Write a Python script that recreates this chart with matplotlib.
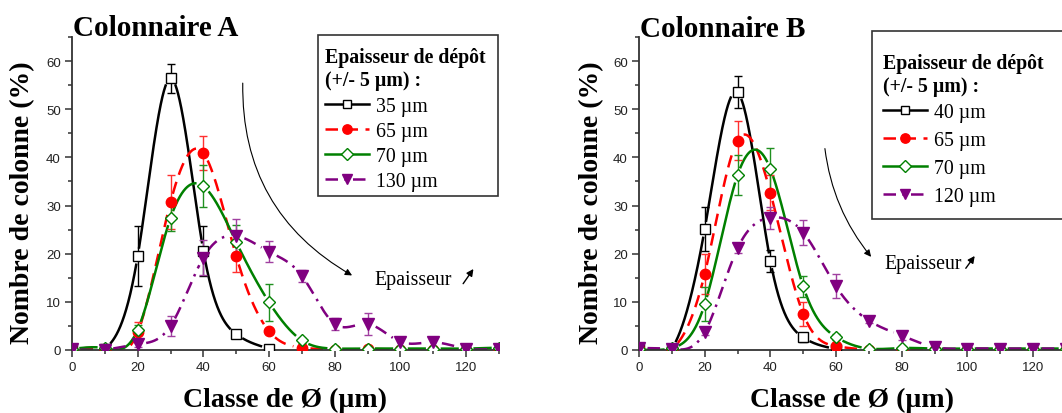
import numpy as np
import matplotlib
matplotlib.use("Agg")
import matplotlib.pyplot as plt
from matplotlib.lines import Line2D
from matplotlib.patches import Rectangle
from matplotlib.ticker import MultipleLocator

# ---------------- data ----------------
classes = [0, 10, 20, 30, 40, 50, 60, 70, 80, 90, 100, 110, 120, 130]
classes_short = [0, 10, 20, 30, 40, 50, 60]

# Colonnaire A
a_35 = [0.2, 0.3, 19.5, 56.4, 20.6, 3.3, 0.3]
a_35_err = [0, 0, 6.2, 3.0, 5.2, 0.5, 0]
a_65 = [0.1, 0.1, 3.7, 30.7, 40.9, 19.5, 3.9, 0.5, 0.1, 0.2, 0.1, 0.1, 0.1, 0.1]
a_65_err = [0, 0, 2.2, 5.6, 3.5, 3.4, 0.5, 0.3, 0, 0, 0, 0, 0, 0]
a_70 = [0.2, 0.4, 4.2, 27.4, 34.0, 22.4, 9.9, 2.0, 0.3, 0.3, 0.3, 0.3, 0.3, 0.5]
a_70_err = [0, 0, 1.0, 2.7, 4.4, 3.5, 3.8, 0.5, 0, 0, 0, 0, 0, 0]
a_130 = [0.2, 0.1, 1.2, 5.0, 19.2, 23.7, 20.4, 15.4, 5.4, 5.4, 1.7, 1.6, 0.3, 0.3]
a_130_err = [0, 0, 0.5, 2.0, 3.7, 3.5, 2.2, 1.2, 1.2, 2.2, 0.8, 0.8, 0, 0]
a_labels = ["35 µm", "65 µm", "70 µm", "130 µm"]

# Colonnaire B
b_40 = [0.3, 0.3, 25.1, 53.5, 18.5, 2.6, 0.2]
b_40_err = [0, 0, 4.5, 3.3, 2.3, 1.0, 0]
b_65 = [0.2, 0.2, 15.8, 43.5, 32.7, 7.5, 0.8, 0.1, 0.1, 0.1, 0.1, 0.1, 0.1, 0.1]
b_65_err = [0, 0, 4.1, 4.1, 3.7, 2.5, 0.3, 0, 0, 0, 0, 0, 0, 0]
b_70 = [0.2, 0.4, 9.5, 36.3, 37.6, 13.2, 2.7, 0.3, 0.4, 0.3, 0.3, 0.3, 0.3, 0.3]
b_70_err = [0, 0, 3.5, 4.2, 4.3, 2.2, 0.6, 0.2, 0, 0, 0, 0, 0, 0]
b_120 = [0.4, 0.2, 3.7, 21.1, 27.5, 24.4, 13.2, 6.1, 3.0, 0.6, 0.3, 0.3, 0.3, 0.3]
b_120_err = [0, 0, 0.5, 1.0, 2.3, 2.5, 2.5, 0.5, 1.0, 0.3, 0, 0, 0, 0]
b_labels = ["40 µm", "65 µm", "70 µm", "120 µm"]

legend_title = "Epaisseur de dépôt\n(+/- 5 µm) :"
annot_text = "Epaisseur"

# ---------------- styles ----------------
SERIF = ["Liberation Serif", "DejaVu Serif"]
SANS = ["Liberation Sans", "DejaVu Sans"]
BLACK, RED, GREEN, PURPLE = "#000000", "#ff0000", "#008000", "#800080"
ERR_COLORS = ["#000000", "#ff3030", "#209020", "#a040a0"]
styles = [
    dict(color=BLACK, ls="-", marker="s", mfc="white", mec=BLACK, ms=6.5),
    dict(color=RED, ls=(0, (5, 3)), marker="o", mfc=RED, mec=RED, ms=7.5),
    dict(color=GREEN, ls="-", marker="D", mfc="white", mec=GREEN, ms=6.5),
    dict(color=PURPLE, ls=(0, (5, 2.5, 1, 2.5)), marker="v", mfc=PURPLE, mec=PURPLE, ms=8),
]

W, H, DPI = 1062, 414, 100
fig = plt.figure(figsize=(W / DPI, H / DPI), dpi=DPI)
ax_w = 427 / W
ax_b = (H - 351) / H
ax_h = (351 - 38) / H
axA = fig.add_axes([72 / W, ax_b, ax_w, ax_h])
axB = fig.add_axes([639 / W, ax_b, ax_w, ax_h])


def natural_spline(x, y, xs):
    x = np.asarray(x, float)
    y = np.asarray(y, float)
    n = len(x)
    h = np.diff(x)
    A = np.zeros((n, n))
    r = np.zeros(n)
    A[0, 0] = A[-1, -1] = 1
    for i in range(1, n - 1):
        A[i, i - 1] = h[i - 1]
        A[i, i] = 2 * (h[i - 1] + h[i])
        A[i, i + 1] = h[i]
        r[i] = 6 * ((y[i + 1] - y[i]) / h[i] - (y[i] - y[i - 1]) / h[i - 1])
    M = np.linalg.solve(A, r)
    idx = np.clip(np.searchsorted(x, xs) - 1, 0, n - 2)
    x0, x1 = x[idx], x[idx + 1]
    hh = x1 - x0
    t0 = x1 - xs
    t1 = xs - x0
    return (M[idx] * t0 ** 3 / (6 * hh) + M[idx + 1] * t1 ** 3 / (6 * hh)
            + (y[idx] / hh - M[idx] * hh / 6) * t0
            + (y[idx + 1] / hh - M[idx + 1] * hh / 6) * t1)


def setup_axes(ax):
    ax.set_xlim(0, 130)
    ax.set_ylim(0, 65)
    for s in ["top", "right"]:
        ax.spines[s].set_visible(False)
    for s in ["left", "bottom"]:
        ax.spines[s].set_color("#333333")
        ax.spines[s].set_linewidth(1.3)
    ax.xaxis.set_major_locator(MultipleLocator(20))
    ax.xaxis.set_minor_locator(MultipleLocator(10))
    ax.yaxis.set_major_locator(MultipleLocator(10))
    ax.yaxis.set_minor_locator(MultipleLocator(5))
    ax.tick_params(which="both", direction="out", color="#333333", width=1.1)
    ax.tick_params(which="major", length=5, labelsize=9.5, pad=3)
    ax.tick_params(which="minor", length=3)
    for lab in ax.get_xticklabels() + ax.get_yticklabels():
        lab.set_family(SANS)
        lab.set_color("#222222")


def draw_series(ax, xs_list, ys_list, err_list):
    for k, (x, y, e) in enumerate(zip(xs_list, ys_list, err_list)):
        st = styles[k]
        x = np.asarray(x, float)
        y = np.asarray(y, float)
        e = np.asarray(e, float)
        xx = np.linspace(x[0], x[-1], 3000)
        yy = natural_spline(x, y, xx)
        # gaps around markers (Origin style)
        disp = ax.transData.transform(np.column_stack([xx, yy]))
        mdisp = ax.transData.transform(np.column_stack([x, y]))
        d = np.min(np.hypot(disp[:, None, 0] - mdisp[None, :, 0],
                            disp[:, None, 1] - mdisp[None, :, 1]), axis=1)
        yy_m = np.where(d < 8.5, np.nan, yy)
        ax.plot(xx, yy_m, color=st["color"], ls=st["ls"], lw=1.8, zorder=2 + k * 0.1)
        m = e > 0
        ax.errorbar(x[m], y[m], yerr=e[m], fmt="none", ecolor=ERR_COLORS[k],
                    elinewidth=1.0, capsize=3, capthick=1.0, zorder=3 + k * 0.1)
        ax.plot(x, y, ls="none", marker=st["marker"], ms=st["ms"], mfc=st["mfc"],
                mec=st["mec"], mew=1.0, zorder=4 + k * 0.1)


def add_legend(labels, box_px, text_anchor_px, labelspacing, sep):
    # frame drawn as a rectangle in figure pixels (x0, y0_top, x1, y1_bottom)
    x0, yt, x1, yb = box_px
    fig.add_artist(Rectangle((x0 / W, 1 - yb / H), (x1 - x0) / W, (yb - yt) / H,
                             transform=fig.transFigure, facecolor="white",
                             edgecolor="#333333", lw=1.2, zorder=5))
    handles = []
    for st, lab in zip(styles, labels):
        handles.append(Line2D([], [], color=st["color"], ls=st["ls"], lw=1.8,
                              marker=st["marker"], ms=st["ms"] * 0.9, mfc=st["mfc"],
                              mec=st["mec"], mew=1.0))
    leg = fig.legend(handles, labels, loc="upper left",
                     bbox_to_anchor=(text_anchor_px[0] / W, 1 - text_anchor_px[1] / H),
                     bbox_transform=fig.transFigure, title=legend_title,
                     alignment="left", frameon=False, borderpad=0,
                     borderaxespad=0, handlelength=2.2, handletextpad=0.35,
                     labelspacing=labelspacing,
                     prop=dict(family=SERIF, size=14.3),
                     title_fontproperties=dict(family=SERIF, size=14.3, weight="bold"))
    leg.set_zorder(6)
    leg._legend_box.sep = sep
    return leg


for ax in (axA, axB):
    setup_axes(ax)

draw_series(axA, [classes_short, classes, classes, classes],
            [a_35, a_65, a_70, a_130], [a_35_err, a_65_err, a_70_err, a_130_err])
draw_series(axB, [classes_short, classes, classes, classes],
            [b_40, b_65, b_70, b_120], [b_40_err, b_65_err, b_70_err, b_120_err])

add_legend(a_labels, (318, 36, 498, 197), (325, 48), 0.3, 5)
add_legend(b_labels, (872, 32, 1075, 220), (883, 54), 0.45, 5)

# annotations: curved arrow + "Epaisseur" + small arrow
arrow_kw = dict(arrowstyle="-|>", color="black", lw=0.8, mutation_scale=10)
axA.annotate("", xy=(86.0, 15.2), xytext=(52.0, 56.0),
             arrowprops=dict(connectionstyle="arc3,rad=0.3", **arrow_kw))
axA.text(92.0, 14.7, annot_text, family=SERIF, fontsize=14.3, ha="left", va="center")
axA.annotate("", xy=(122.7, 17.3), xytext=(118.6, 13.3),
             arrowprops=dict(arrowstyle="-|>", color="black", lw=1.0, mutation_scale=10))

axB.annotate("", xy=(71.2, 18.9), xytext=(56.5, 42.4),
             arrowprops=dict(connectionstyle="arc3,rad=0.15", **arrow_kw))
axB.text(74.8, 17.9, annot_text, family=SERIF, fontsize=14.3, ha="left", va="center")
axB.annotate("", xy=(102.7, 20.0), xytext=(99.0, 16.5),
             arrowprops=dict(arrowstyle="-|>", color="black", lw=1.0, mutation_scale=10))

# titles and axis labels
fig.text(73 / W, 1 - 36 / H, "Colonnaire A", family=SERIF, fontsize=21, weight="bold",
         ha="left", va="baseline")
fig.text(640 / W, 1 - 37 / H, "Colonnaire B", family=SERIF, fontsize=21, weight="bold",
         ha="left", va="baseline")
for xc in (23, 592):
    fig.text(xc / W, 1 - 203 / H, "Nombre de colonne (%)", family=SERIF, fontsize=20,
             weight="bold", rotation=90, ha="center", va="center")
for xc in (285, 852):
    fig.text(xc / W, 1 - 400 / H, "Classe de Ø (µm)", family=SERIF, fontsize=20,
             weight="bold", ha="center", va="center")

fig.savefig("out.png", dpi=DPI)
